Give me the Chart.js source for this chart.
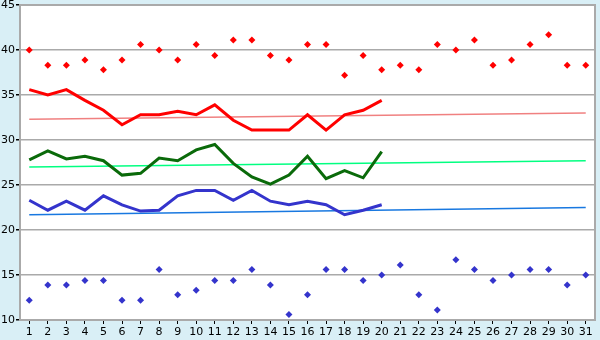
<!DOCTYPE html>
<html>
<head>
<meta charset="utf-8">
<script src="https://cdn.jsdelivr.net/npm/chart.js@4/dist/chart.umd.min.js"></script>
<style>
	html, body { margin: 0; padding: 0; background: #d9eff6; }
	#wrap { width: 600px; height: 340px; }
</style>
</head>
<body>
<div id="wrap"><canvas id="chart"></canvas></div>
<script>
var days = ['1', '2', '3', '4', '5', '6', '7', '8', '9', '10', '11', '12', '13', '14', '15', '16',
	'17', '18', '19', '20', '21', '22', '23', '24', '25', '26', '27', '28', '29', '30', '31']
var yTicks = [10, 15, 20, 25, 30, 35, 40, 45]

// daily highs / lows (markers)
var maxPoints = [40.0, 38.3, 38.3, 38.9, 37.8, 38.9, 40.6, 40.0, 38.9, 40.6, 39.4, 41.1, 41.1, 39.4, 38.9, 40.6,
	40.6, 37.2, 39.4, 37.8, 38.3, 37.8, 40.6, 40.0, 41.1, 38.3, 38.9, 40.6, 41.7, 38.3, 38.3]
var minPoints = [12.2, 13.9, 13.9, 14.4, 14.4, 12.2, 12.2, 15.6, 12.8, 13.3, 14.4, 14.4, 15.6, 13.9, 10.6, 12.8,
	15.6, 15.6, 14.4, 15.0, 16.1, 12.8, 11.1, 16.7, 15.6, 14.4, 15.0, 15.6, 15.6, 13.9, 15.0]

// thick lines, days 1-20
var highLine = [35.6, 35.0, 35.6, 34.4, 33.3, 31.7, 32.8, 32.8, 33.2, 32.8, 33.9, 32.2, 31.1, 31.1, 31.1, 32.8,
	31.1, 32.8, 33.3, 34.4]
var meanLine = [27.8, 28.8, 27.9, 28.2, 27.7, 26.1, 26.3, 28.0, 27.7, 28.9, 29.5, 27.4, 25.9, 25.1, 26.1, 28.2,
	25.7, 26.6, 25.8, 28.7]
var lowLine = [23.3, 22.2, 23.2, 22.2, 23.8, 22.8, 22.1, 22.2, 23.8, 24.4, 24.4, 23.3, 24.4, 23.2, 22.8, 23.2,
	22.8, 21.7, 22.2, 22.8]

// thin reference lines: value on day 1 and day 31
var highRef = [32.3, 33.0]
var meanRef = [27.0, 27.7]
var lowRef = [21.7, 22.5]

function ends(pair) {
	var arr = days.map(function() { return null })
	arr[0] = pair[0]
	arr[days.length - 1] = pair[1]
	return arr
}

var plotBg = {
	id: 'plotBg',
	beforeDraw: function(chart) {
		var a = chart.chartArea
		var ctx = chart.ctx
		ctx.save()
		ctx.fillStyle = '#ffffff'
		ctx.fillRect(a.left, a.top, a.right - a.left, a.bottom - a.top)
		ctx.restore()
	},
	afterDraw: function(chart) {
		var a = chart.chartArea
		var ctx = chart.ctx
		ctx.save()
		ctx.strokeStyle = '#aaaaaa'
		ctx.lineWidth = 2
		ctx.beginPath()
		ctx.moveTo(a.left, a.top)
		ctx.lineTo(a.right, a.top)
		ctx.lineTo(a.right, a.bottom)
		ctx.stroke()
		ctx.restore()
	}
}

var font = { family: 'DejaVu Sans', size: 11 }

var ctx = document.getElementById('chart')
var chart = new Chart(ctx, {
	type: 'line',
	data: {
		labels: days,
		datasets: [
			{ data: maxPoints, showLine: false, pointStyle: 'rectRot', pointRadius: 3.5, pointBackgroundColor: '#ff0000', pointBorderWidth: 0 },
			{ data: minPoints, showLine: false, pointStyle: 'rectRot', pointRadius: 3.5, pointBackgroundColor: '#3434cc', pointBorderWidth: 0 },
			{ data: highLine, borderColor: '#ff0000', borderWidth: 3, pointRadius: 0 },
			{ data: meanLine, borderColor: '#0a6a0a', borderWidth: 3, pointRadius: 0 },
			{ data: lowLine, borderColor: '#3434cc', borderWidth: 3, pointRadius: 0 },
			{ data: ends(highRef), borderColor: '#f08080', borderWidth: 1.5, pointRadius: 0, spanGaps: true },
			{ data: ends(meanRef), borderColor: '#00ff80', borderWidth: 1.5, pointRadius: 0, spanGaps: true },
			{ data: ends(lowRef), borderColor: '#1878e0', borderWidth: 1.5, pointRadius: 0, spanGaps: true }
		]
	},
	options: {
		responsive: true,
		maintainAspectRatio: false,
		animation: false,
		layout: { padding: { top: 5, right: 5, left: 0, bottom: 0 } },
		plugins: {
			legend: { display: false },
			tooltip: { enabled: false }
		},
		scales: {
			x: {
				offset: true,
				afterFit: function(axis) {
					axis.height = 20
					axis.paddingLeft = 0
					axis.paddingRight = 0
				},
				grid: { drawOnChartArea: false, tickLength: 4, tickColor: '#000000', offset: false },
				border: { color: '#aaaaaa', width: 2 },
				ticks: { font: font, color: '#000000', padding: 2, maxRotation: 0, autoSkip: false }
			},
			y: {
				min: yTicks[0],
				max: yTicks[yTicks.length - 1],
				afterFit: function(axis) {
					axis.width = 20
					axis.paddingTop = 0
					axis.paddingBottom = 0
				},
				afterBuildTicks: function(axis) {
					axis.ticks = yTicks.map(function(v) { return { value: v } })
				},
				grid: { color: '#aaaaaa', lineWidth: 1.5, tickLength: 4, tickColor: '#000000' },
				border: { color: '#aaaaaa', width: 2 },
				ticks: { font: font, color: '#000000', padding: 1 }
			}
		}
	},
	plugins: [plotBg]
})
</script>
</body>
</html>
